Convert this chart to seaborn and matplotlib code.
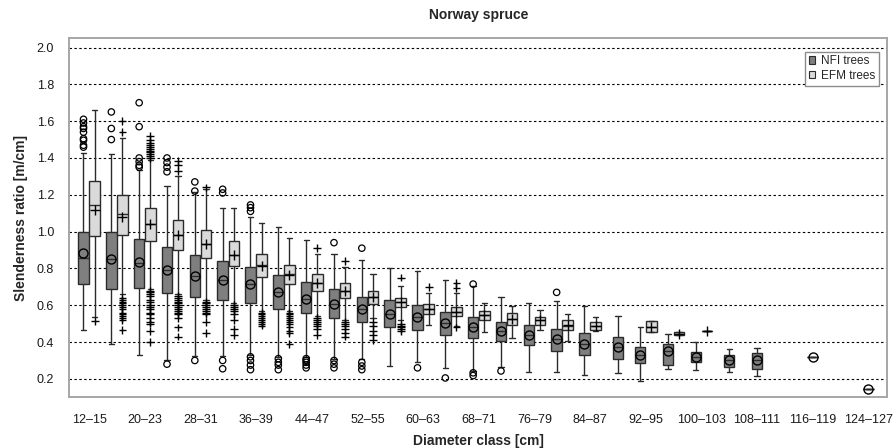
import numpy as np
import pandas as pd
import matplotlib
matplotlib.use("Agg")
import matplotlib.pyplot as plt
from matplotlib.patches import Patch
import seaborn as sns

# ---------------- data ----------------
classes = ["12–15", "16–19", "20–23", "24–27", "28–31", "32–35", "36–39", "40–43",
           "44–47", "48–51", "52–55", "56–59", "60–63", "64–67", "68–71", "72–75",
           "76–79", "80–83", "84–87", "88–91", "92–95", "96–99", "100–103", "104–107",
           "108–111", "112–115", "116–119", "120–123", "124–127"]
groups = ["NFI trees", "EFM trees"]
N = None

nfi_lo = [0.466, 0.388, 0.332, 0.30, 0.325, 0.327, 0.331, 0.318, 0.318, 0.31, 0.309, 0.272, 0.29,
          0.26, 0.245, 0.264, 0.237, 0.237, 0.219, 0.234, 0.19, 0.254, 0.249, 0.239, 0.218, N, 0.318, N, 0.146]
nfi_q1 = [0.714, 0.687, 0.696, 0.667, 0.643, 0.63, 0.614, 0.581, 0.556, 0.532, 0.51, 0.48, 0.466,
          0.439, 0.423, 0.406, 0.386, 0.351, 0.328, 0.31, 0.288, 0.278, 0.29, 0.267, 0.255, N, 0.318, N, 0.146]
nfi_med = [0.857, 0.852, 0.83, 0.79, 0.759, 0.737, 0.713, 0.672, 0.636, 0.609, 0.58, 0.553, 0.535,
           0.504, 0.481, 0.46, 0.44, 0.415, 0.391, 0.373, 0.332, 0.354, 0.317, 0.30, 0.305, N, 0.318, N, 0.146]
nfi_q3 = [1.0, 1.0, 0.959, 0.919, 0.874, 0.842, 0.808, 0.764, 0.726, 0.69, 0.647, 0.626, 0.599,
          0.562, 0.535, 0.507, 0.495, 0.471, 0.449, 0.428, 0.375, 0.39, 0.348, 0.332, 0.339, N, 0.318, N, 0.146]
nfi_hi = [1.428, 1.42, 1.332, 1.25, 1.216, 1.128, 1.079, 1.025, 0.956, 0.876, 0.847, 0.801, 0.787,
          0.738, 0.702, 0.645, 0.612, 0.625, 0.596, 0.542, 0.48, 0.444, 0.40, 0.361, 0.369, N, 0.318, N, 0.146]
nfi_mean = [0.884, 0.852, 0.834, 0.794, 0.759, 0.737, 0.713, 0.672, 0.636, 0.609, 0.58, 0.553, 0.535,
            0.504, 0.481, 0.46, 0.44, 0.415, 0.391, 0.373, 0.332, 0.354, 0.317, 0.30, 0.305, N, 0.318, N, 0.146]
nfi_out = [[1.61, 1.59, 1.57, 1.56, 1.54, 1.505, 1.496, 1.469, 1.459],
           [1.65, 1.56, 1.50],
           [1.70, 1.57, 1.40, 1.38, 1.36, 1.35],
           [1.40, 1.375, 1.35, 1.325, 0.28],
           [1.27, 1.22, 0.30],
           [1.23, 1.21, 0.30, 0.255],
           [1.145, 1.13, 1.11, 0.32, 0.30, 0.275, 0.25],
           [0.31, 0.29, 0.275, 0.25],
           [0.31, 0.30, 0.29, 0.275, 0.26],
           [0.94, 0.30, 0.28, 0.26],
           [0.91, 0.29, 0.27, 0.25],
           [], [0.26], [0.205], [0.715, 0.233, 0.218], [0.243], [], [0.67],
           [], [], [], [], [], [], [], [], [], [], []]

efm_lo = [0.535, 0.66, 0.69, 0.66, 0.63, 0.61, 0.57, 0.57, 0.54, 0.52, 0.53, 0.52, 0.493,
          0.49, 0.452, 0.424, 0.464, 0.404, 0.46, N, 0.453, 0.44, 0.46, N, N, N, N, N, N]
efm_q1 = [0.977, 0.982, 0.95, 0.901, 0.855, 0.811, 0.753, 0.717, 0.677, 0.642, 0.608, 0.59, 0.553,
          0.544, 0.521, 0.493, 0.495, 0.464, 0.464, N, 0.453, 0.44, 0.46, N, N, N, N, N, N]
efm_med = [1.143, 1.096, 1.04, 0.982, 0.931, 0.875, 0.82, 0.77, 0.72, 0.68, 0.645, 0.615, 0.58,
           0.566, 0.546, 0.527, 0.518, 0.49, 0.487, N, 0.484, 0.446, 0.46, N, N, N, N, N, N]
efm_q3 = [1.276, 1.198, 1.129, 1.064, 1.009, 0.947, 0.88, 0.82, 0.771, 0.721, 0.68, 0.64, 0.608,
          0.589, 0.571, 0.558, 0.536, 0.518, 0.509, N, 0.513, 0.452, 0.46, N, N, N, N, N, N]
efm_hi = [1.658, 1.51, 1.39, 1.30, 1.23, 1.128, 1.047, 0.965, 0.876, 0.808, 0.77, 0.707, 0.665,
          0.665, 0.611, 0.596, 0.576, 0.551, 0.536, N, 0.513, 0.452, 0.46, N, N, N, N, N, N]
efm_mean = [1.118, 1.078, 1.04, 0.982, 0.931, 0.875, 0.813, 0.762, 0.72, 0.678, 0.644, 0.615, 0.582,
            0.566, 0.546, 0.527, 0.518, 0.491, 0.487, N, 0.484, 0.446, 0.46, N, N, N, N, N, N]
efm_out = [[0.515],
           [1.60, 1.54, 0.64, 0.63, 0.62, 0.61, 0.60, 0.59, 0.58, 0.56, 0.55, 0.54, 0.53, 0.52, 0.465],
           [1.52, 1.50, 1.48, 1.47, 1.46, 1.45, 1.44, 1.43, 1.42, 1.41, 1.40,
            0.68, 0.67, 0.66, 0.65, 0.63, 0.62, 0.60, 0.59, 0.58, 0.56, 0.55, 0.53, 0.51, 0.50, 0.46, 0.40],
           [1.385, 1.36, 1.33, 0.65, 0.64, 0.63, 0.62, 0.61, 0.60, 0.59, 0.58, 0.57, 0.56, 0.55, 0.53, 0.48, 0.43],
           [1.24, 0.62, 0.61, 0.60, 0.59, 0.58, 0.57, 0.56, 0.55, 0.51, 0.45],
           [0.60, 0.59, 0.58, 0.57, 0.55, 0.52, 0.47, 0.44],
           [0.56, 0.55, 0.54, 0.53, 0.52, 0.51, 0.50, 0.49],
           [0.56, 0.55, 0.54, 0.53, 0.52, 0.51, 0.50, 0.48, 0.46, 0.45, 0.39],
           [0.91, 0.53, 0.52, 0.51, 0.50, 0.49, 0.47, 0.44],
           [0.84, 0.51, 0.50, 0.49, 0.47, 0.45, 0.43],
           [0.51, 0.49, 0.46, 0.44, 0.41],
           [0.75, 0.50, 0.49, 0.48, 0.47, 0.46],
           [0.70], [0.72, 0.695, 0.48],
           [], [], [], [], [], [], [], [], [], [], [], [], [], [], []]

# ---------------- tables for seaborn ----------------
nfi_stats = [nfi_lo, nfi_q1, nfi_med, nfi_q3, nfi_hi]
efm_stats = [efm_lo, efm_q1, efm_med, efm_q3, efm_hi]

box_rows, mean_rows, out_rows = [], [], []
for i, c in enumerate(classes):
    for g, st, mn, outs in ((groups[0], nfi_stats, nfi_mean, nfi_out),
                            (groups[1], efm_stats, efm_mean, efm_out)):
        if st[0][i] is None:
            continue
        for arr in st:
            box_rows.append((c, g, arr[i]))
        mean_rows.append((c, g, mn[i]))
        for v in outs[i]:
            out_rows.append((c, g, v))

box_df = pd.DataFrame(box_rows, columns=["cls", "grp", "val"])
mean_df = pd.DataFrame(mean_rows, columns=["cls", "grp", "val"])
out_df = pd.DataFrame(out_rows, columns=["cls", "grp", "val"])

both = [c for i, c in enumerate(classes) if nfi_lo[i] is not None and efm_lo[i] is not None]
single = [c for i, c in enumerate(classes) if nfi_lo[i] is not None and efm_lo[i] is None]

pal = {groups[0]: "#7f7f7f", groups[1]: "#dadada"}
blk = {groups[0]: "black", groups[1]: "black"}

# ---------------- plot ----------------
sns.set_style("white")
plt.rcParams["font.family"] = ["Liberation Sans", "DejaVu Sans"]

fig = plt.figure(figsize=(8.93, 4.48), dpi=100)
ax = fig.add_axes([69.3 / 893, 1 - 397.3 / 448, (887.3 - 69.3) / 893, (397.3 - 38.3) / 448])

line_c = "#2b2b2b"
common = dict(x="cls", y="val", order=classes, whis=np.inf, saturation=1,
              linecolor=line_c, linewidth=1.0, legend=False, ax=ax)

sns.boxplot(data=box_df[box_df.cls.isin(both)], hue="grp", hue_order=groups,
            palette=pal, width=0.8, gap=0.05, **common)
sns.boxplot(data=box_df[box_df.cls.isin(single)], color=pal[groups[0]],
            width=0.38, **common)

# outliers
n0 = len(ax.collections)
sns.stripplot(data=out_df[(out_df.grp == groups[0]) & out_df.cls.isin(both)], x="cls", y="val",
              hue="grp", hue_order=groups, order=classes, palette=blk, dodge=True,
              jitter=False, marker="o", size=4.6, linewidth=0.9, legend=False, ax=ax, zorder=4)
for coll in ax.collections[n0:]:
    coll.set_facecolor("none")
    coll.set_edgecolor("black")
    coll.set_linewidth(0.9)
sns.stripplot(data=out_df[(out_df.grp == groups[1]) & out_df.cls.isin(both)], x="cls", y="val",
              hue="grp", hue_order=groups, order=classes, palette=blk, dodge=True,
              jitter=False, marker="+", size=5.5, linewidth=1.0, legend=False, ax=ax, zorder=4)

# means
sns.pointplot(data=mean_df[mean_df.cls.isin(both)], x="cls", y="val", hue="grp",
              hue_order=groups, order=classes, palette=blk, dodge=0.4,
              markers=["o", "+"], linestyle="none", errorbar=None, markersize=6.5,
              markeredgewidth=1.0, markerfacecolor="none", legend=False, ax=ax, zorder=5)
sns.pointplot(data=mean_df[mean_df.cls.isin(single)], x="cls", y="val", order=classes,
              color="black", markers="o", linestyle="none", errorbar=None, markersize=6.5,
              markeredgewidth=1.0, markerfacecolor="none", ax=ax, zorder=5)

# axes styling
ax.set_xlim(-0.71, 28.68)
ax.set_ylim(0.1, 2.05)
yt = np.round(np.arange(0.2, 2.01, 0.2), 1)
ax.set_yticks(yt)
ax.set_yticklabels([f"{v:.1f}" for v in yt])
ax.set_xticks(range(0, len(classes), 2))
ax.set_xticklabels(classes[::2])
ax.yaxis.grid(True, linestyle=(0, (2.2, 2.2)), color="black", linewidth=0.8)
ax.xaxis.grid(False)
ax.set_axisbelow(True)
for s in ax.spines.values():
    s.set_visible(True)
    s.set_color("#a6a6a6")
    s.set_linewidth(1.4)
ax.tick_params(axis="both", which="both", direction="out", length=4, width=1,
               color="#a6a6a6", labelsize=9, labelcolor="#1a1a1a")
ax.tick_params(axis="x", pad=8)
ax.tick_params(axis="y", pad=7)

ax.set_title("Norway spruce", fontsize=10, fontweight="bold", pad=14)
ax.set_xlabel("Diameter class [cm]", fontsize=10, fontweight="bold", labelpad=6)
ax.set_ylabel("Slenderness ratio [m/cm]", fontsize=10, fontweight="bold", labelpad=6)

handles = [Patch(facecolor=pal[g], edgecolor=line_c, linewidth=0.8, label=g) for g in groups]
leg = ax.legend(handles=handles, loc="upper right", bbox_to_anchor=(0.99, 0.963),
                frameon=True, fancybox=False, edgecolor="#8c8c8c", framealpha=1,
                fontsize=8.5, handlelength=0.55, handleheight=0.55, handletextpad=0.5,
                borderpad=0.3, labelspacing=0.25, borderaxespad=0)
leg.get_frame().set_linewidth(1.0)

fig.savefig("out.png", dpi=100)
